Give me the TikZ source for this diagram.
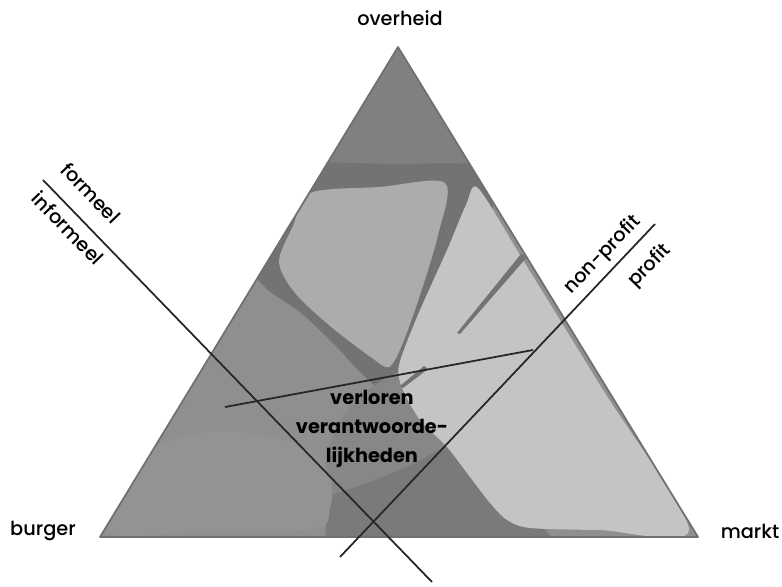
\documentclass[tikz,border=0pt]{standalone}
\usepackage{fontspec}
\setmainfont{Poppins}[UprightFont=* Medium,BoldFont=* Bold]
\usepackage{tikz}

\definecolor{apexgrey}{gray}{0.50}
\definecolor{bandgrey}{gray}{0.45}
\definecolor{leftgrey}{gray}{0.56}
\definecolor{blobgrey}{gray}{0.575}
\definecolor{midgrey}{gray}{0.53}
\definecolor{lowgrey}{gray}{0.48}
\definecolor{ulgrey}{gray}{0.675}
\definecolor{rightgrey}{gray}{0.77}
\definecolor{rimgrey}{gray}{0.44}
\definecolor{linegrey}{gray}{0.15}

\begin{document}
\begin{tikzpicture}[x=0.03cm,y=-0.03cm,
	lbl/.style={font=\fontsize{16.5}{18}\selectfont},
	mid/.style={font=\fontsize{16.5}{25}\selectfont\bfseries,align=center},
	cut/.style={draw=linegrey,line width=1.5pt}]
	\useasboundingbox (0,0) rectangle (782,587);

	\coordinate (A) at (398,47);
	\coordinate (B) at (100,537);
	\coordinate (C) at (698,537);

	\begin{scope}
	\clip (A) -- (B) -- (C) -- cycle;
	\fill[leftgrey] (A) -- (B) -- (C) -- cycle;
	\fill[apexgrey] (0,0) -- (800,0) -- (800,190) -- (300,200) -- (0,200) -- cycle;
	\fill[bandgrey] plot[smooth cycle, tension=0.5] coordinates {(290,168) (400,164) (480,165) (500,185) (470,260) (430,340) (402,385) (382,390) (360,372) (335,345) (300,312) (268,290) (250,265) (270,230)};
	\fill[midgrey] (398,372) .. controls (360,390) and (330,420) .. (325,470) -- (325,545) -- (560,545) -- (450,440) -- cycle;
	\fill[lowgrey] (326,545) -- (326,497) .. controls (360,486) and (410,470) .. (455,440) -- (560,545) -- cycle;
	\fill[blobgrey] plot[smooth cycle, tension=0.6] coordinates {(110,533) (200,531) (312,529) (330,508) (329,475) (305,448) (240,432) (175,438) (130,470)};
	\fill[ulgrey] plot[smooth cycle, tension=0.5] coordinates {(310,193) (380,187) (445,183) (438,235) (420,295) (402,345) (389,367) (372,358) (330,326) (295,293) (279,262) (293,226)};
	\fill[rightgrey] plot[smooth cycle, tension=0.45] coordinates {(478,188) (523,260) (603,390) (689,530) (600,530) (530,528) (507,520) (490,503) (470,477) (447,447) (420,420) (402,388) (399,365) (417,317) (447,250) (466,205)};
	\fill[bandgrey] (424,366) -- (428,369) -- (403,388) -- (400,386) -- cycle;
	\fill[bandgrey] (521,254) -- (527,257) -- (460,334) -- (457,333) -- cycle;
	\end{scope}
	\draw[rimgrey,line width=1.5pt,line join=round] (A) -- (B) -- (C) -- cycle;

	\coordinate (f1) at (43,180);
	\coordinate (f2) at (432,582);
	\coordinate (p1) at (655,224);
	\coordinate (p2) at (340,557);
	\coordinate (h1) at (225,407);
	\coordinate (h2) at (533,350);

	\draw[cut] (f1) -- (f2);
	\draw[cut] (p1) -- (p2);
	\draw[cut] (h1) -- (h2);

	\node[lbl] (overheid) at (400,18) {overheid};
	\node[lbl] (burger) at (43,531) {burger};
	\node[lbl] (markt) at (750,531) {markt};
	\node[lbl,rotate=-46] (formeel) at (91,193) {formeel};
	\node[lbl,rotate=-46] (informeel) at (68,228) {informeel};
	\node[lbl,rotate=46] (nonprofit) at (603,255) {non-profit};
	\node[lbl,rotate=46] (profit) at (650,266) {profit};
	\node[mid] (verloren) at (372,429) {verloren\\verantwoorde-\\lijkheden};
\end{tikzpicture}
\end{document}
